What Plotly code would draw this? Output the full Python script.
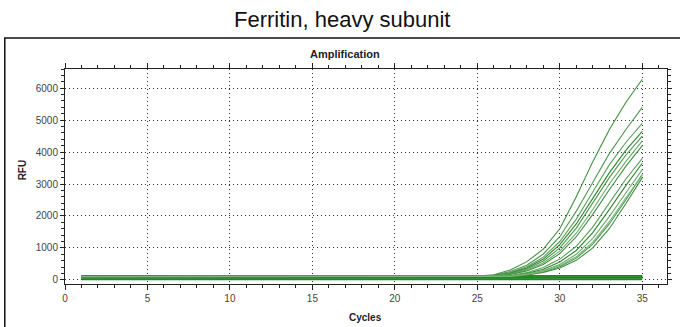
import plotly.graph_objects as go

# ---- data ----
cycles = list(range(1, 36))

# amplifying wells: flat baseline for cycles 1-24, then values for cycles 25..35
amp_baselines = [110, 100, 105, 95, 100, 110, 90, 100, 95, 105, 100, 90, 100]
amp_rises = [
    [115, 160, 310, 570, 960, 1600, 2600, 3700, 4700, 5550, 6280],
    [110, 140, 260, 460, 810, 1350, 2150, 3050, 3950, 4700, 5400],
    [110, 130, 230, 410, 710, 1200, 1900, 2750, 3600, 4300, 4900],
    [100, 125, 210, 370, 650, 1100, 1750, 2550, 3350, 4050, 4650],
    [105, 120, 195, 340, 590, 1000, 1620, 2400, 3200, 3900, 4500],
    [110, 120, 185, 310, 530, 900, 1460, 2200, 3000, 3700, 4350],
    [95, 110, 170, 280, 480, 820, 1350, 2050, 2820, 3550, 4200],
    [100, 105, 135, 225, 385, 650, 1050, 1650, 2400, 3150, 3800],
    [95, 100, 120, 200, 330, 560, 920, 1480, 2200, 2950, 3650],
    [105, 105, 115, 180, 290, 480, 800, 1300, 1980, 2720, 3450],
    [100, 100, 110, 160, 250, 410, 680, 1120, 1750, 2500, 3300],
    [90, 95, 105, 150, 230, 370, 610, 1000, 1600, 2380, 3200],
    [100, 100, 110, 170, 270, 440, 720, 1180, 1820, 2560, 3280],
]
amp_colors = ["#3f8f3f", "#4f984f", "#5aa05a", "#2f862f", "#4a964a", "#6aaa6a",
              "#3f8f3f", "#5aa05a", "#2f862f", "#6aaa6a", "#4a964a", "#3f8f3f", "#7ab47a"]

# non-amplifying wells (flat)
flat_levels = [130, 115, 95, 75, 55, 35, 10]

x_ticks = [0, 5, 10, 15, 20, 25, 30, 35]
y_ticks = [0, 1000, 2000, 3000, 4000, 5000, 6000]

fig = go.Figure()

for lvl in flat_levels:
    fig.add_trace(go.Scatter(x=cycles, y=[lvl] * len(cycles), mode="lines",
                             line=dict(color="#1f8a1f", width=1.2),
                             showlegend=False, hoverinfo="skip"))

for base, rise, col in zip(amp_baselines, amp_rises, amp_colors):
    y = [base] * (len(cycles) - len(rise)) + rise
    fig.add_trace(go.Scatter(x=cycles, y=y, mode="lines",
                             line=dict(color=col, width=1.1),
                             showlegend=False, hoverinfo="skip"))

axis_font = dict(family="Liberation Sans, Arial", size=10, color="#444444")
grid_dash = "1px,3px"

fig.update_layout(
    width=680, height=327,
    margin=dict(l=65, r=8, t=69, b=43),
    paper_bgcolor="white", plot_bgcolor="white",
    showlegend=False,
    xaxis=dict(range=[0, 36.5], tickvals=x_ticks, ticktext=[str(v) for v in x_ticks],
               showgrid=True, gridcolor="#333333", griddash=grid_dash, gridwidth=1,
               zeroline=False, showline=True, linecolor="#222222", linewidth=1,
               mirror="ticks", ticks="outside", ticklen=5, tickcolor="#222222",
               tickfont=axis_font,
               minor=dict(dtick=1, ticks="outside", ticklen=3, tickcolor="#222222", showgrid=False)),
    yaxis=dict(range=[-130, 6600], tickvals=y_ticks, ticktext=[str(v) for v in y_ticks],
               showgrid=True, gridcolor="#333333", griddash=grid_dash, gridwidth=1,
               zeroline=False, showline=True, linecolor="#222222", linewidth=1,
               mirror="ticks", ticks="outside", ticklen=4, tickcolor="#222222",
               tickfont=axis_font,
               minor=dict(dtick=200, ticks="outside", ticklen=3, tickcolor="#222222", showgrid=False)),
)

# Outer frame
fig.add_shape(type="rect", xref="paper", yref="paper",
              x0=-0.1, x1=1.04, y0=-0.25, y1=(284 - 38) / 215,
              line=dict(color="#111111", width=1.5), fillcolor="rgba(0,0,0,0)", layer="below")

fig.add_annotation(text="Ferritin, heavy subunit", xref="paper", yref="paper",
                   x=(344 - 65) / 607, y=(284 - 19) / 215, showarrow=False,
                   font=dict(family="Liberation Sans, Arial", size=22, color="#111111"),
                   xanchor="center", yanchor="middle")
fig.add_annotation(text="<b>Amplification</b>", xref="paper", yref="paper",
                   x=(347 - 65) / 607, y=(284 - 54) / 215, showarrow=False,
                   font=dict(family="Liberation Sans, Arial", size=11, color="#222222"),
                   xanchor="center", yanchor="middle")
fig.add_annotation(text="<b>RFU</b>", xref="paper", yref="paper",
                   x=(22 - 65) / 607, y=(284 - 170) / 215, showarrow=False, textangle=-90,
                   font=dict(family="Liberation Sans, Arial", size=10, color="#222222"),
                   xanchor="center", yanchor="middle")
fig.add_annotation(text="<b>Cycles</b>", xref="paper", yref="paper",
                   x=(368 - 65) / 607, y=(284 - 317) / 215, showarrow=False,
                   font=dict(family="Liberation Sans, Arial", size=10, color="#222222"),
                   xanchor="center", yanchor="middle")

fig.write_html("out.html")
